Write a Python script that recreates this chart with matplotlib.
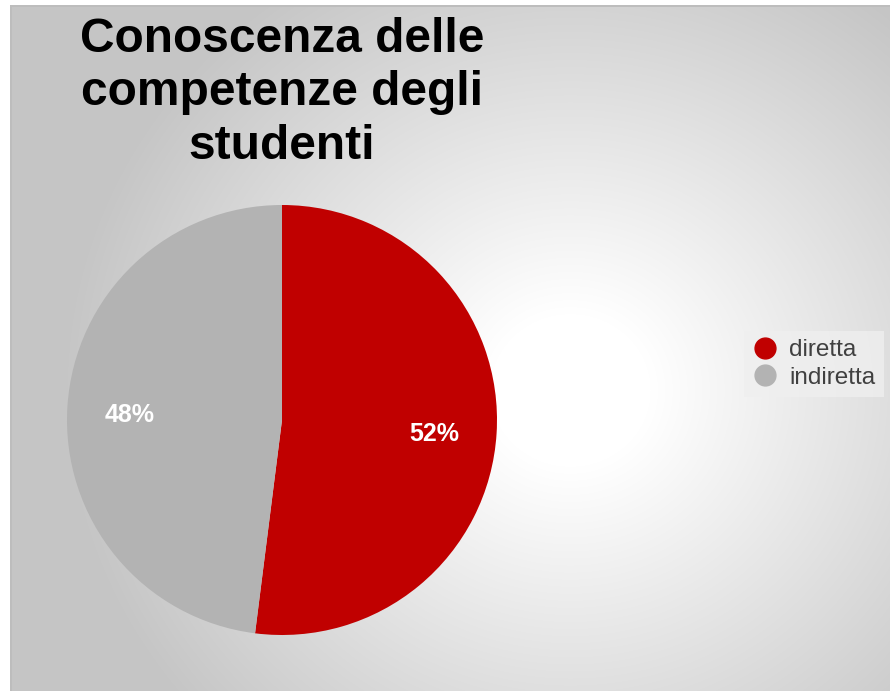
import numpy as np
import matplotlib.pyplot as plt
from matplotlib.lines import Line2D
from matplotlib.patches import Rectangle

labels = ['diretta', 'indiretta']
values = [52, 48]
colors = ['#c00000', '#b3b3b3']
title = 'Conoscenza delle\ncompetenze degli\nstudenti'

W, H = 890, 691
plt.rcParams['font.family'] = ['Liberation Sans', 'DejaVu Sans']

fig = plt.figure(figsize=(W / 100, H / 100), dpi=100)
fig.patch.set_facecolor('white')

# radial gradient background
bg = fig.add_axes([10 / W, 0, (W - 10) / W, (H - 5) / H])
yy, xx = np.mgrid[5:H, 10:W]
d = np.sqrt((xx - 570.0) ** 2 + ((yy - 390.0) * 1.05) ** 2)
shade = 255 - 58 * np.clip((d - 80) / 430, 0, 1)
img = np.dstack([shade, shade, shade]) / 255.0
bg.imshow(img, aspect='auto', interpolation='bilinear')
bg.set_axis_off()
fig.add_artist(Rectangle((10 / W, 0), 2 / W, (H - 5) / H, transform=fig.transFigure,
                         color='#bdbdbd', lw=0))
fig.add_artist(Rectangle((10 / W, (H - 7) / H), (W - 10) / W, 2 / H, transform=fig.transFigure,
                         color='#bdbdbd', lw=0))

# pie
cx, cy, r = 282, 420, 215
ax = fig.add_axes([(cx - r) / W, (H - cy - r) / H, 2 * r / W, 2 * r / H])
wedges, texts, autotexts = ax.pie(values, colors=colors, startangle=90, counterclock=False,
                                  autopct='%1.0f%%', pctdistance=0.71, radius=1,
                                  textprops=dict(color='white', fontsize=18, fontweight='bold'))
for t in autotexts:
    x, y = t.get_position()
    t.set_position((x, y - 0.02))
ax.set_xlim(-1, 1)
ax.set_ylim(-1, 1)
ax.set_aspect('equal')
ax.set_axis_off()

fig.text(cx / W, 1 - 17 / H, title, ha='center', va='top', fontsize=34.5,
         fontweight='bold', linespacing=1.24, color='black')

handles = [Line2D([], [], marker='o', linestyle='', markersize=15, color=c) for c in colors]
leg = fig.legend(handles, labels, loc='center left', bbox_to_anchor=(732 / W, 1 - 364 / H),
                 frameon=True, fontsize=17.5, handletextpad=0.5, labelspacing=0.22,
                 borderpad=0.35, handlelength=1.0, labelcolor='#404040')
leg.get_frame().set_facecolor('#efefef')
leg.get_frame().set_edgecolor('none')
leg.get_frame().set_alpha(0.8)
leg.get_frame().set_boxstyle('square', pad=0)

fig.savefig('out.png', dpi=100)
